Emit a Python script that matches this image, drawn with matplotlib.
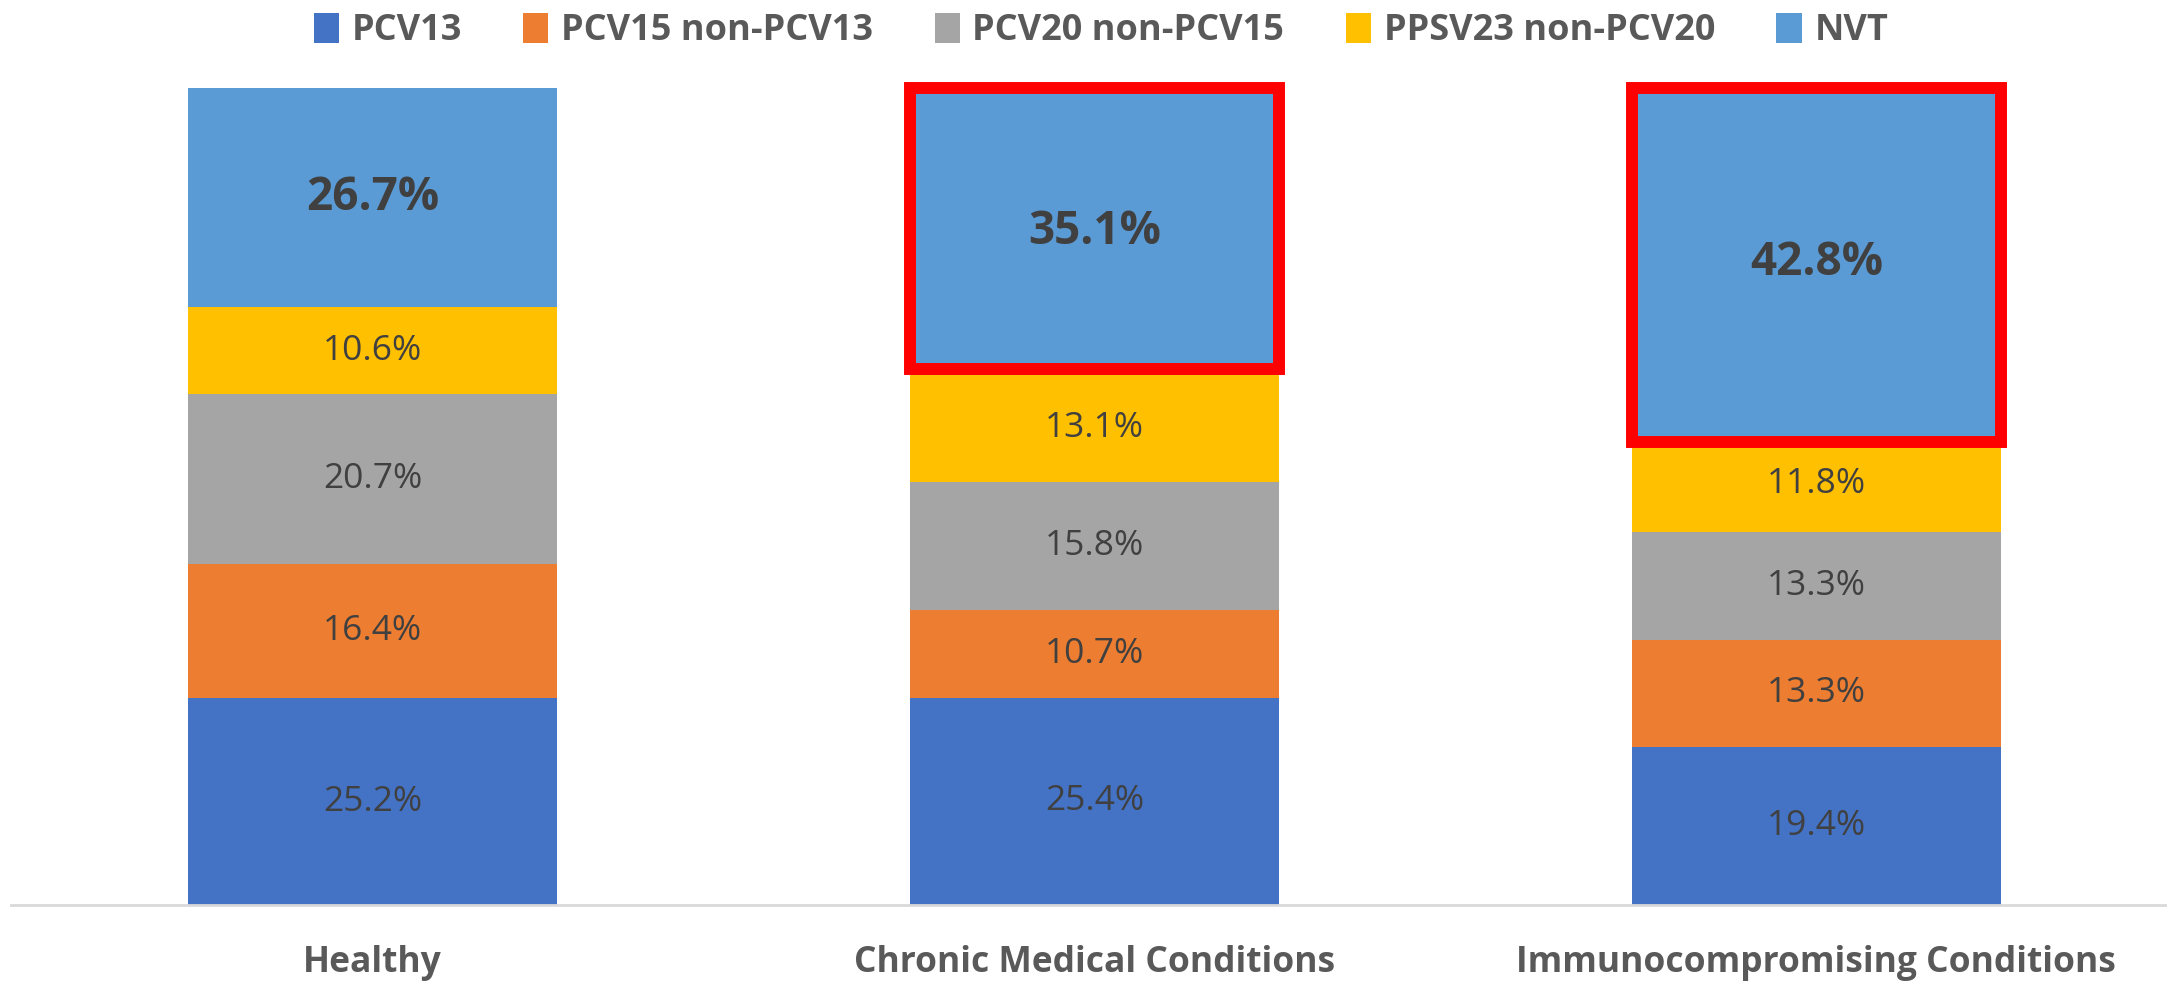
import matplotlib.pyplot as plt
import numpy as np
from matplotlib.patches import Patch, Rectangle

# Data (percent of cases per group)
groups = ['Healthy', 'Chronic Medical Conditions', 'Immunocompromising Conditions']
series = ['PCV13', 'PCV15 non-PCV13', 'PCV20 non-PCV15', 'PPSV23 non-PCV20', 'NVT']
pcv13 = [25.2, 25.4, 19.4]
pcv15 = [16.4, 10.7, 13.3]
pcv20 = [20.7, 15.8, 13.3]
ppsv23 = [10.6, 13.1, 11.8]
nvt = [26.7, 35.1, 42.8]
highlight = [False, True, True]

colors = ['#4472C4', '#ED7D31', '#A5A5A5', '#FFC000', '#5B9BD5']
values = np.array([pcv13, pcv15, pcv20, ppsv23, nvt])
totals = values.sum(axis=0)
shares = values / totals  # 100% stacked

plt.rcParams['font.family'] = ['Open Sans', 'DejaVu Sans']

fig = plt.figure(figsize=(21.67, 9.81), dpi=100)
ax = fig.add_axes([0.0053, 0.0775, 0.9995, 0.8325])

x = np.arange(len(groups))
width = 0.511
bottom = np.zeros(len(groups))
for i, name in enumerate(series):
    ax.bar(x, shares[i], width, bottom=bottom, color=colors[i], label=name, zorder=2)
    for j in range(len(groups)):
        yc = bottom[j] + shares[i][j] / 2
        if name == 'NVT':
            ax.text(x[j], yc, f'{values[i][j]:.1f}%', ha='center', va='center',
                    fontsize=33, fontweight='bold', color='#404040', zorder=4)
        else:
            ax.text(x[j], yc, f'{values[i][j]:.1f}%', ha='center', va='center',
                    fontsize=25.5, color='#404040', zorder=4)
    bottom += shares[i]

# red boxes around NVT segments of highlighted groups
nvt_bottom = bottom - shares[-1]
box_shift = [0, 0.007, -0.008]
for j in range(len(groups)):
    if highlight[j]:
        y0 = nvt_bottom[j] + box_shift[j]
        ax.add_patch(Rectangle((x[j] - width / 2, y0), width, 1.0 - y0,
                               fill=False, edgecolor='#FF0000', linewidth=8.6,
                               joinstyle='miter', clip_on=False, zorder=5))

ax.set_xlim(-0.5, 2.5)
ax.set_ylim(0, 1)
ax.set_yticks([])
ax.set_xticks(x)
ax.set_xticklabels(groups, fontsize=25.5, fontweight='bold', color='#595959')
ax.tick_params(axis='x', length=0, pad=29)
for s in ['top', 'right', 'left']:
    ax.spines[s].set_visible(False)
ax.spines['bottom'].set_color('#D9D9D9')
ax.spines['bottom'].set_linewidth(2)

handles = [Patch(facecolor=c, label=n) for c, n in zip(colors, series)]
leg = fig.legend(handles=handles, loc='upper center', bbox_to_anchor=(0.508, 1.02), ncol=5,
                 frameon=False, fontsize=26, handlelength=0.7, handleheight=0.9,
                 handletextpad=0.35, columnspacing=1.7)
for t in leg.get_texts():
    t.set_fontweight('bold')
    t.set_color('#595959')

fig.savefig('out.png', dpi=100)
